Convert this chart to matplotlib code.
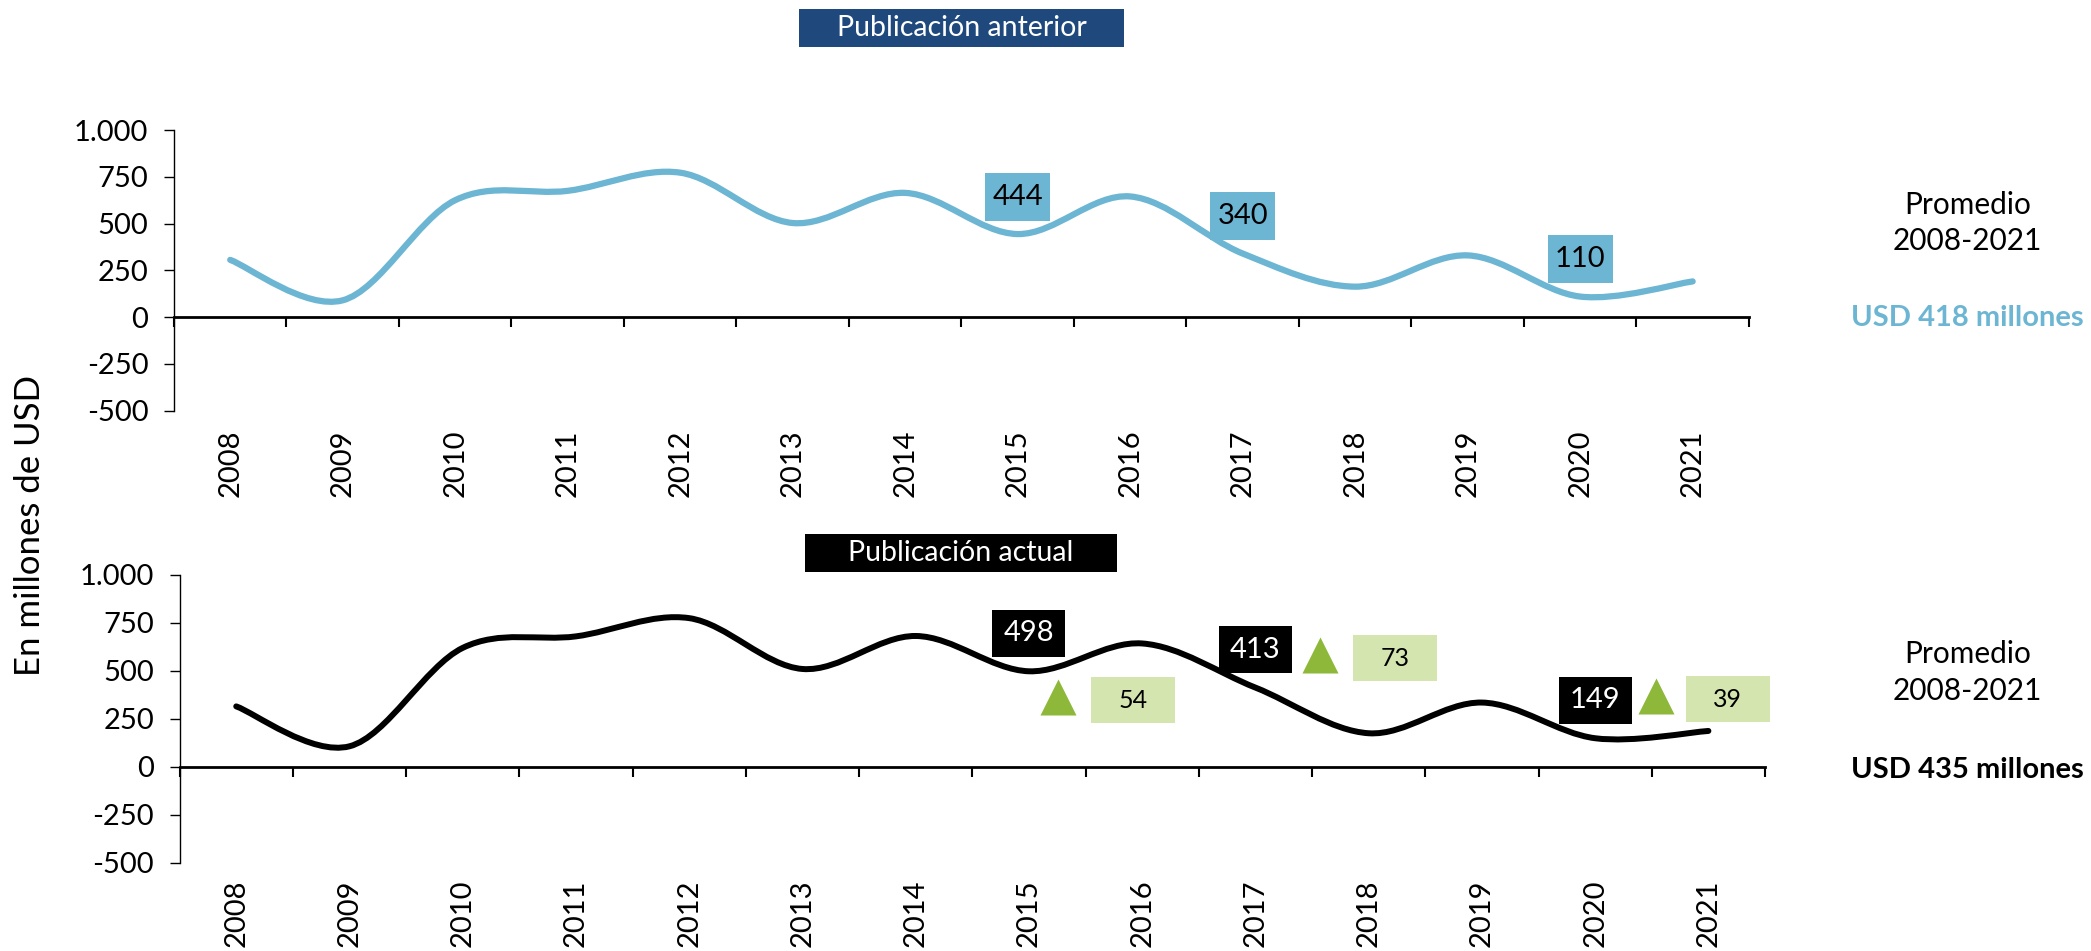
import numpy as np
import matplotlib
matplotlib.use('Agg')
import matplotlib.pyplot as plt
from matplotlib.path import Path
from matplotlib.patches import PathPatch, Rectangle
from matplotlib.ticker import FixedLocator, FuncFormatter, NullFormatter

plt.rcParams['font.family'] = ['Lato', 'DejaVu Sans']

# datos (millones de USD)
anios = ['2008', '2009', '2010', '2011', '2012', '2013', '2014',
         '2015', '2016', '2017', '2018', '2019', '2020', '2021']
anterior = [306, 90, 625, 675, 772, 503, 664, 444, 645, 340, 163, 330, 110, 191]
actual = [315, 107, 620, 680, 775, 510, 682, 498, 643, 413, 175, 335, 149, 187]
etiquetas = ['2015', '2017', '2020']   # años con etiqueta de valor
prom_anterior = 'USD 418 millones'
prom_actual = 'USD 435 millones'

AZUL = '#6CB5D3'
AZUL_OSC = '#1F497D'
VERDE = '#8DB83A'
VERDE_CL = '#D5E5B0'


def curva(ax, y, color, lw):
    # linea suavizada tipo Excel (bezier catmull-rom)
    x = np.arange(len(y), dtype=float)
    pts = np.column_stack([x, np.asarray(y, dtype=float)])
    ext = np.vstack([pts[0], pts, pts[-1]])
    verts = [pts[0]]
    codes = [Path.MOVETO]
    for i in range(len(pts) - 1):
        p0, p1, p2, p3 = ext[i], ext[i + 1], ext[i + 2], ext[i + 3]
        verts += [p1 + (p2 - p0) / 6, p2 - (p3 - p1) / 6, p2]
        codes += [Path.CURVE4] * 3
    ax.add_patch(PathPatch(Path(verts, codes), fill=False, edgecolor=color,
                           lw=lw, capstyle='round', zorder=3))


def caja(ax, x, y, w, h, fc, txt, tc, size):
    # caja de w x h pixeles centrada en (x, y) de datos
    cx, cy = ax.transData.transform((x, y))
    inv = ax.transData.inverted()
    x0, y0 = inv.transform((cx - w / 2, cy - h / 2))
    x1, y1 = inv.transform((cx + w / 2, cy + h / 2))
    ax.add_patch(Rectangle((x0, y0), x1 - x0, y1 - y0, facecolor=fc,
                           edgecolor='none', zorder=4, clip_on=False))
    ax.text(x, y, txt, ha='center', va='center', color=tc, fontsize=size,
            zorder=5, clip_on=False)


def ejes(ax):
    n = len(anios)
    ax.set_xlim(-0.5, n - 0.5)
    ax.set_ylim(-500, 1000)
    for s in ['top', 'right']:
        ax.spines[s].set_visible(False)
    ax.spines['left'].set_linewidth(1.0)
    ax.spines['bottom'].set_position(('data', 0))
    ax.spines['bottom'].set_linewidth(2.0)
    ax.yaxis.set_major_locator(FixedLocator(np.arange(-500, 1001, 250)))
    ax.yaxis.set_major_formatter(FuncFormatter(lambda v, p: f'{v:,.0f}'.replace(',', '.')))
    ax.tick_params(axis='y', direction='out', length=7.5, width=1.0, pad=11, labelsize=21)
    ax.xaxis.set_major_locator(FixedLocator(np.arange(n)))
    ax.set_xticklabels(anios, rotation=90)
    ax.xaxis.set_minor_locator(FixedLocator(np.arange(n + 1) - 0.5))
    ax.xaxis.set_minor_formatter(NullFormatter())
    ax.tick_params(axis='x', which='major', length=0, pad=81, labelsize=21)
    ax.tick_params(axis='x', which='minor', direction='out', length=7.5, width=1.5)


fig = plt.figure(figsize=(20.91, 9.51), dpi=100)
ax1 = fig.add_axes([0.0832, 0.5681, 0.7532, 0.2952])
ax2 = fig.add_axes([0.0859, 0.0928, 0.7582, 0.3026])
ejes(ax1)
ejes(ax2)

curva(ax1, anterior, AZUL, 4.5)
curva(ax2, actual, 'black', 4.3)

# posiciones de los indicadores de cambio (triangulo, caja) por etiqueta
tri_pos = [(0.26, 366), (0.57, 583), (0.54, 371)]
box_pos = [(0.92, 348), (1.23, 567), (1.17, 353)]

for k, a in enumerate(etiquetas):
    i = anios.index(a)
    caja(ax1, i, anterior[i] + 200, 65, 48, AZUL, str(anterior[i]), 'black', 21)
    caja(ax2, i, actual[i] + 197, 73, 47, 'black', str(actual[i]), 'white', 21)
    ax2.plot(i + tri_pos[k][0], tri_pos[k][1], marker='^', ms=26.6, color=VERDE,
             mec='none', zorder=4, clip_on=False)
    caja(ax2, i + box_pos[k][0], box_pos[k][1], 84, 46, VERDE_CL,
         str(actual[i] - anterior[i]), 'black', 18)

# titulos en caja
fig.add_artist(Rectangle((0.3821, 0.9506), 0.1554, 0.040, transform=fig.transFigure,
                         facecolor=AZUL_OSC, edgecolor='none'))
fig.text(0.4598, 0.9706, 'Publicación anterior', color='white', fontsize=20.5,
         ha='center', va='center')
fig.add_artist(Rectangle((0.3850, 0.3985), 0.1492, 0.040, transform=fig.transFigure,
                         facecolor='black', edgecolor='none'))
fig.text(0.4596, 0.4185, 'Publicación actual', color='white', fontsize=20.5,
         ha='center', va='center')

# promedios
fig.text(0.941, 0.7844, 'Promedio', fontsize=21.5, ha='center', va='center')
fig.text(0.941, 0.7466, '2008-2021', fontsize=21.5, ha='center', va='center')
fig.text(0.941, 0.6656, prom_anterior, fontsize=21, ha='center', va='center',
         color=AZUL, fontweight='bold')
fig.text(0.941, 0.3123, 'Promedio', fontsize=21.5, ha='center', va='center')
fig.text(0.941, 0.2734, '2008-2021', fontsize=21.5, ha='center', va='center')
fig.text(0.941, 0.1903, prom_actual, fontsize=21, ha='center', va='center',
         color='black', fontweight='bold')

fig.text(0.0143, 0.4469, 'En millones de USD', rotation=90, fontsize=25,
         ha='center', va='center')

fig.savefig('out.png', dpi=100)
